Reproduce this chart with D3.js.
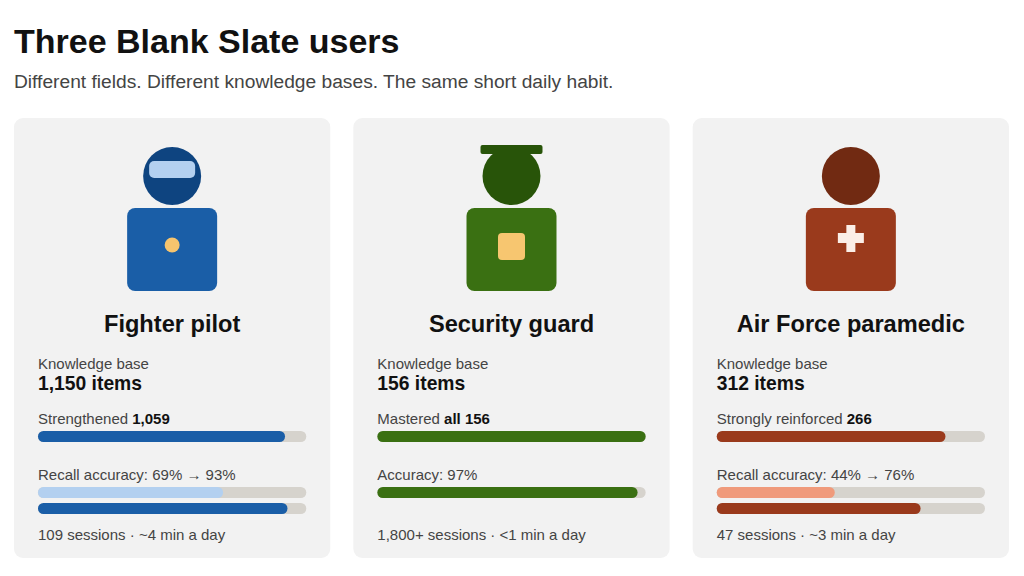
<!DOCTYPE html>
<html><head><meta charset="utf-8">
<script src="https://cdn.jsdelivr.net/npm/d3@7"></script>
<style>
html,body{margin:0;padding:0;background:#fff;}
svg{display:block;font-family:"Liberation Sans",Arial,Helvetica,sans-serif;}
</style></head>
<body>
<svg id="chart" width="1024" height="576"></svg>
<script>
const title = "Three Blank Slate users";
const subtitle = "Different fields. Different knowledge bases. The same short daily habit.";
const roles = ["Fighter pilot", "Security guard", "Air Force paramedic"];
const kbItems = [1150, 156, 312];
const progressLabels = ["Strengthened", "Mastered", "Strongly reinforced"];
const progressValueText = ["1,059", "all 156", "266"];
const progressValues = [1059, 156, 266];
const accuracyLabels = ["Recall accuracy: 69% \u2192 93%", "Accuracy: 97%", "Recall accuracy: 44% \u2192 76%"];
const accuracyBefore = [69, null, 44];
const accuracyAfter = [93, 97, 76];
const footers = ["109 sessions \u00b7 ~4 min a day", "1,800+ sessions \u00b7 <1 min a day", "47 sessions \u00b7 ~3 min a day"];

const palette = [
  {body:"#1a5ea7", head:"#0e4480", accent:"#b3d0f0", badge:"#f6c46e", bar:"#1a5ea7", light:"#b3d0f0"},
  {body:"#3a7012", head:"#285409", accent:"#285409", badge:"#f7c670", bar:"#3a7012", light:"#9cc07a"},
  {body:"#9a3a1c", head:"#712a12", accent:"#fbeee7", badge:"#fbeee7", bar:"#9a3a1c", light:"#f09a7b"}
];
const track = "#d6d3cd";

const svg = d3.select("#chart");
svg.append("text").attr("x",14).attr("y",53).attr("font-size",34).attr("font-weight","bold").attr("fill","#111").text(title);
svg.append("text").attr("x",14).attr("y",88).attr("font-size",19.2).attr("fill","#444").text(subtitle);

const cardX = d3.scaleBand().domain(d3.range(roles.length)).range([14,1009]).paddingInner(0.068);
const cardTop = 118, cardH = 440;
const pad = 24;
const fmt = d3.format(",");

roles.forEach((role,i)=>{
  const x0 = cardX(i), w = cardX.bandwidth(), cx = x0 + w/2;
  const c = palette[i];
  const g = svg.append("g");
  g.append("rect").attr("x",x0).attr("y",cardTop).attr("width",w).attr("height",cardH).attr("rx",9).attr("fill","#f2f2f2");

  // icon
  g.append("rect").attr("x",cx-45).attr("y",208).attr("width",90).attr("height",83).attr("rx",8).attr("fill",c.body);
  g.append("circle").attr("cx",cx).attr("cy",176).attr("r",29).attr("fill",c.head);
  if(i===0){
    g.append("rect").attr("x",cx-23).attr("y",161).attr("width",46).attr("height",17).attr("rx",5).attr("fill",c.accent);
    g.append("circle").attr("cx",cx).attr("cy",245).attr("r",7.5).attr("fill",c.badge);
  } else if(i===1){
    g.append("rect").attr("x",cx-31).attr("y",145).attr("width",62).attr("height",9).attr("rx",2).attr("fill",c.accent);
    g.append("rect").attr("x",cx-13.5).attr("y",233).attr("width",27).attr("height",27).attr("rx",4).attr("fill",c.badge);
  } else {
    g.append("rect").attr("x",cx-13).attr("y",233).attr("width",26).attr("height",10).attr("fill",c.badge);
    g.append("rect").attr("x",cx-4.5).attr("y",225).attr("width",9).attr("height",27).attr("fill",c.badge);
  }

  g.append("text").attr("x",cx).attr("y",332).attr("text-anchor","middle").attr("font-size",23.6).attr("font-weight","bold").attr("fill","#111").text(role);

  const lx = x0 + pad, bw = w - 2*pad;
  g.append("text").attr("x",lx).attr("y",369).attr("font-size",15).attr("fill","#444").text("Knowledge base");
  g.append("text").attr("x",lx).attr("y",390).attr("font-size",19.3).attr("font-weight","bold").attr("fill","#111").text(fmt(kbItems[i]) + " items");

  const pt = g.append("text").attr("x",lx).attr("y",424).attr("font-size",15).attr("fill","#444");
  pt.append("tspan").text(progressLabels[i] + " ");
  pt.append("tspan").attr("font-weight","bold").attr("fill","#111").text(progressValueText[i]);

  const xs = d3.scaleLinear().domain([0,kbItems[i]]).range([0,bw]);
  const bh = 11;
  function bar(y, frac, fill, scale){
    g.append("rect").attr("x",lx).attr("y",y).attr("width",bw).attr("height",bh).attr("rx",bh/2).attr("fill",track);
    g.append("rect").attr("x",lx).attr("y",y).attr("width",scale(frac)).attr("height",bh).attr("rx",bh/2).attr("fill",fill);
  }
  bar(431, progressValues[i], c.bar, xs);

  g.append("text").attr("x",lx).attr("y",480).attr("font-size",15).attr("fill","#444").text(accuracyLabels[i]);
  const xp = d3.scaleLinear().domain([0,100]).range([0,bw]);
  if(accuracyBefore[i] != null){
    bar(487, accuracyBefore[i], c.light, xp);
    bar(503, accuracyAfter[i], c.bar, xp);
  } else {
    bar(487, accuracyAfter[i], c.bar, xp);
  }

  g.append("text").attr("x",lx).attr("y",540).attr("font-size",15).attr("fill","#444").text(footers[i]);
});
</script>
</body></html>
